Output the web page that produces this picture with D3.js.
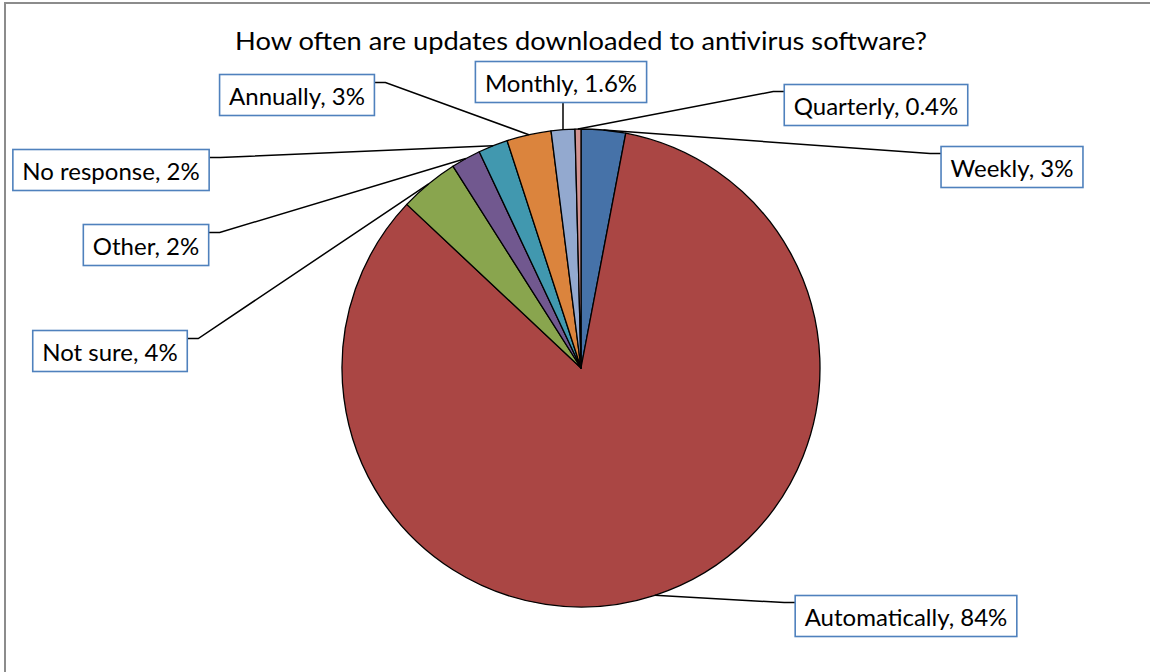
<!DOCTYPE html>
<html>
<head>
<meta charset="utf-8">
<script src="https://cdn.jsdelivr.net/npm/d3@7"></script>
<style>
  html, body { margin: 0; padding: 0; background: #fff; }
  svg { display: block; }
  text { font-family: Lato, "Liberation Sans", sans-serif; fill: #000; }
</style>
</head>
<body>
<svg id="chart" width="1150" height="672"></svg>
<script>
// Survey answers, clockwise from 12 o'clock
const categories = ["Weekly", "Automatically", "Not sure", "Other", "No response", "Annually", "Monthly", "Quarterly"];
const shares = [3, 84, 4, 2, 2, 3, 1.6, 0.4];
const valueLabels = ["3%", "84%", "4%", "2%", "2%", "3%", "1.6%", "0.4%"];
const sliceColors = ["#4672A8", "#AA4644", "#89A54E", "#71588F", "#4198AF", "#DB843D", "#93A9CF", "#D19392"];
const title = "How often are updates downloaded to antivirus software?";

// Callout placement: box centre and which side the leader line joins
const calloutLayout = [
  { cx: 1012, cy: 167, side: "left" },
  { cx: 906, cy: 616, side: "left" },
  { cx: 110, cy: 351, side: "right" },
  { cx: 146, cy: 245, side: "right" },
  { cx: 111, cy: 170, side: "right" },
  { cx: 297, cy: 95, side: "right" },
  { cx: 561, cy: 82, side: "bottom" },
  { cx: 876, cy: 105, side: "left" }
];

const svg = d3.select("#chart");
const W = 1150, H = 672;
const cx = 581, cy = 368, R = 239;

// Chart area frame
svg.append("rect")
  .attr("x", 5).attr("y", 3)
  .attr("width", W + 20).attr("height", H + 20)
  .attr("fill", "#fff")
  .attr("stroke", "#8c8c8c").attr("stroke-width", 2);

svg.append("text")
  .attr("x", cx).attr("y", 50)
  .attr("text-anchor", "middle")
  .attr("textLength", 692)
  .attr("lengthAdjust", "spacingAndGlyphs")
  .style("font-size", "25px")
  .text(title);

const data = categories.map((c, i) => ({ name: c, value: shares[i], label: valueLabels[i], color: sliceColors[i], layout: calloutLayout[i] }));

const pie = d3.pie().sort(null).value(d => d.value);
const arcs = pie(data);
const arc = d3.arc().innerRadius(0).outerRadius(R);

const g = svg.append("g").attr("transform", `translate(${cx},${cy})`);
g.selectAll("path.slice")
  .data(arcs)
  .join("path")
  .attr("class", "slice")
  .attr("d", arc)
  .attr("fill", d => d.data.color)
  .attr("stroke", "#000")
  .attr("stroke-width", 1.3)
  .attr("stroke-linejoin", "round");

// Callouts
const calloutG = svg.append("g");
arcs.forEach(a => {
  const d = a.data;
  const L = d.layout;
  const t = calloutG.append("text")
    .attr("x", L.cx).attr("y", L.cy)
    .attr("text-anchor", "middle")
    .attr("dominant-baseline", "central")
    .style("font-size", "24px")
    .text(`${d.name}, ${d.label}`);
  const tw = t.node().getComputedTextLength();
  const bw = tw + 19, bh = 41;
  const bx = L.cx - bw / 2, by = L.cy - bh / 2;

  // point on the rim at the slice's middle angle
  const mid = (a.startAngle + a.endAngle) / 2;
  const px = cx + R * Math.sin(mid), py = cy - R * Math.cos(mid);

  let pts;
  if (L.side === "left") {
    const ly = by + 7;
    pts = [[bx, ly], [bx - 11, ly], [px, py]];
  } else if (L.side === "right") {
    const ly = by + 8;
    pts = [[bx + bw, ly], [bx + bw + 11, ly], [px, py]];
  } else {
    pts = [[px, by + bh], [px, py]];
  }
  calloutG.insert("path", "text")
    .attr("d", d3.line()(pts))
    .attr("fill", "none")
    .attr("stroke", "#000")
    .attr("stroke-width", 1.5);
  calloutG.insert("rect", "text")
    .attr("x", bx).attr("y", by)
    .attr("width", bw).attr("height", bh)
    .attr("fill", "#fff")
    .attr("stroke", "#4F81BD")
    .attr("stroke-width", 1.6);
});
</script>
</body>
</html>
